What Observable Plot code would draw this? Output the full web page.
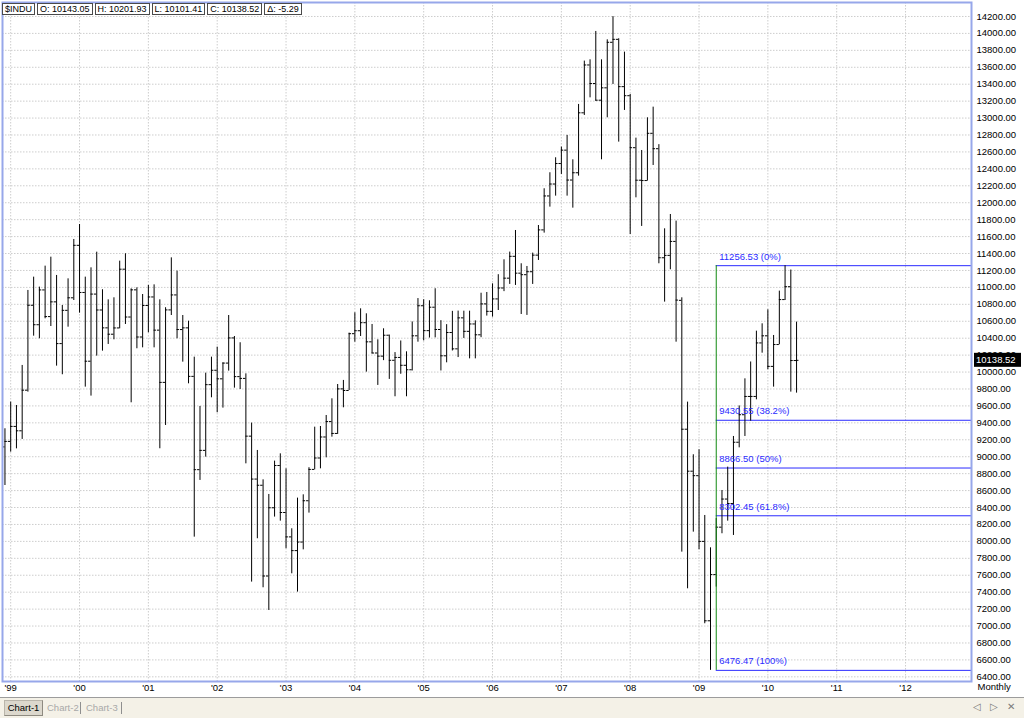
<!DOCTYPE html>
<html>
<head>
<meta charset="utf-8">
<script src="https://cdn.jsdelivr.net/npm/d3@7"></script>
<script src="https://cdn.jsdelivr.net/npm/@observablehq/plot@0.6"></script>
<style>
  html, body { margin: 0; padding: 0; background: #fff; }
  #wrap { position: relative; width: 1024px; height: 718px; overflow: hidden; font-family: "Liberation Sans", Arial, sans-serif; }
  #chart svg { display: block; }
  #hdr { position: absolute; left: 2px; top: 3px; display: flex; gap: 2px; }
  #hdr div { box-sizing: border-box; height: 12px; line-height: 10px; font-size: 9px; border: 1px solid #4a4a4a; background: #fff; color: #000; padding: 0 2px; white-space: nowrap; }
  #tabs { position: absolute; left: 0; top: 697px; width: 1024px; height: 21px; background: #f4f1e7; border-top: 1px solid #9c9c9c; box-sizing: border-box; font-size: 9.5px; }
  #tabs .tab { position: absolute; top: 2px; height: 16px; line-height: 16px; color: #a8a8a8; }
  #tabs .sel { left: 4px; width: 39px; text-align: center; color: #000; background: #dcd8cd; border: 1px solid #b9b5aa; border-right-color: #8e8a80; border-bottom-color: #8e8a80; box-sizing: border-box; line-height: 14px; }
  #tabs .sep { position: absolute; top: 4px; width: 1px; height: 12px; background: #8f8f8f; }
  #nav { position: absolute; right: 6px; top: 3px; font-size: 10px; color: #7a7a7a; letter-spacing: 3px; }
</style>
</head>
<body>
<div id="wrap">
  <div id="chart"></div>
  <div id="hdr"></div>
  <div id="tabs">
    <div class="tab sel">Chart-1</div>
    <div class="tab" style="left:47px">Chart-2</div>
    <div class="sep" style="left:80px"></div>
    <div class="tab" style="left:86px">Chart-3</div>
    <div class="sep" style="left:121px"></div>
    <div id="nav">◁ ▷ ✕</div>
  </div>
</div>
<script>
// ---- Data: DJIA ($INDU) monthly bars, Dec 1998 .. Jun 2010 ----
const firstMonthIndex = -1; // Dec 1998 (Jan 1999 = 0)

const opens = [
  9116,
  9181, 9358, 9306, 9786, 10789, 10559, 10970, 10655, 10829, 10336, 10729, 10877,
  11497, 10940, 10128, 10921, 10733, 10522, 10447, 10521, 11215, 10650, 10971, 10414,
  10786, 10887, 10495, 9878, 10734, 10911, 10502, 10522, 9949, 8847, 9075, 9851,
  10021, 9920, 10106, 10403, 9946, 9925, 9243, 8736, 8663, 7591, 8397, 8896,
  8341, 8053, 7891, 7992, 8480, 8850, 8985, 9233, 9415, 9275, 9801, 9782,
  10453, 10488, 10583, 10357, 10225, 10188, 10435, 10139, 10173, 10080, 10027, 10428,
  10783, 10489, 10766, 10503, 10192, 10467, 10274, 10640, 10481, 10568, 10440, 10805,
  10717, 10864, 10993, 11109, 11367, 11168, 11150, 11185, 11381, 11679, 12080, 12221,
  12463, 12621, 12268, 12354, 13062, 13627, 13408, 13211, 13357, 13895, 13930, 13371,
  13264, 12650, 12266, 12262, 12820, 12638, 11350, 11378, 11543, 10847, 9325, 8829,
  8776, 8000, 7062, 7608, 8168, 8500, 8447, 9171, 9496, 9712, 9712, 10344,
  10428, 10067, 10325, 10856, 11008, 10136
];
const highs = [
  9330,
  9645, 9605, 10078, 10964, 11121, 11003, 11251, 11357, 11141, 10786, 11101, 11566,
  11743, 11121, 11231, 11416, 10972, 10853, 10877, 11310, 11397, 10983, 10995, 10916,
  11023, 11030, 10853, 10760, 11349, 11192, 10668, 10601, 10176, 9594, 9987, 10176,
  10294, 10109, 10668, 10420, 10346, 9979, 9397, 9074, 8727, 8554, 8948, 9034,
  8857, 8149, 8511, 8550, 8870, 9349, 9357, 9487, 9684, 9853, 9901, 10460,
  10700, 10747, 10688, 10562, 10381, 10511, 10437, 10230, 10367, 10239, 10592, 10868,
  10854, 10842, 10984, 10607, 10560, 10717, 10720, 10719, 10719, 10605, 10931, 10940,
  11042, 11150, 11326, 11417, 11672, 11279, 11247, 11405, 11731, 12165, 12354, 12531,
  12657, 12795, 12507, 13161, 13673, 13688, 14023, 13688, 13924, 14198, 13937, 13779,
  13279, 12763, 12617, 13003, 13129, 12686, 11692, 11861, 11783, 10877, 9645, 9023,
  9082, 8306, 7924, 8270, 8601, 8877, 9239, 9600, 9920, 10119, 10483, 10570,
  10735, 10432, 10956, 11256.53, 11205, 10590
];
const lows = [
  8660,
  9054, 9093, 9204, 9763, 10424, 10393, 10629, 10538, 10070, 9968, 10530, 10845,
  10696, 9822, 9716, 10188, 10247, 10326, 10381, 10511, 10562, 9637, 10275, 10286,
  10464, 10286, 9094, 9369, 10668, 10393, 10117, 9861, 8050, 8720, 8995, 9696,
  9519, 9574, 10011, 9810, 9794, 8916, 7519, 8031, 7452, 7184, 8287, 8239,
  7913, 7617, 7401, 7900, 8334, 8845, 8857, 8987, 9231, 9263, 9578, 9782,
  10353, 10420, 9999, 10215, 9842, 10135, 9913, 9708, 9974, 9708, 10013, 10353,
  10368, 10402, 10404, 10013, 10109, 10249, 10171, 10397, 10156, 10156, 10406, 10661,
  10649, 10727, 10950, 11035, 11023, 10680, 10669, 11035, 11318, 11641, 11948, 12078,
  12334, 12078, 11936, 12314, 13031, 13239, 13200, 12507, 13003, 13397, 12716, 13090,
  11625, 12058, 11720, 12255, 12440, 11279, 10826, 11208, 10353, 7873, 7440, 8109,
  7901, 7027, 6476.47, 7460, 8090, 8239, 8070, 9105, 9239, 9420, 9672, 10223,
  10027, 9822, 10322, 10845, 9763, 9751
];
const closes = [
  9181,
  9358, 9306, 9786, 10789, 10559, 10970, 10655, 10829, 10336, 10729, 10877, 11497,
  10940, 10128, 10921, 10733, 10522, 10447, 10521, 11215, 10650, 10971, 10414, 10786,
  10887, 10495, 9878, 10734, 10911, 10502, 10522, 9949, 8847, 9075, 9851, 10021,
  9920, 10106, 10403, 9946, 9925, 9243, 8736, 8663, 7591, 8397, 8896, 8341,
  8053, 7891, 7992, 8480, 8850, 8985, 9233, 9415, 9275, 9801, 9782, 10453,
  10488, 10583, 10357, 10225, 10188, 10435, 10139, 10173, 10080, 10027, 10428, 10783,
  10489, 10766, 10503, 10192, 10467, 10274, 10640, 10481, 10568, 10440, 10805, 10717,
  10864, 10993, 11109, 11367, 11168, 11150, 11185, 11381, 11679, 12080, 12221, 12463,
  12621, 12268, 12354, 13062, 13627, 13408, 13211, 13357, 13895, 13930, 13371, 13264,
  12650, 12266, 12262, 12820, 12638, 11350, 11378, 11543, 10850, 9325, 8829, 8776,
  8000, 7062, 7608, 8168, 8500, 8447, 9171, 9496, 9712, 9712, 10344, 10428,
  10067, 10325, 10856, 11008, 10136, 10138.52
];

// Axis ticks
const yTicks = [6400, 6600, 6800, 7000, 7200, 7400, 7600, 7800, 8000, 8200, 8400, 8600, 8800,
  9000, 9200, 9400, 9600, 9800, 10000, 10200, 10400, 10600, 10800, 11000, 11200, 11400,
  11600, 11800, 12000, 12200, 12400, 12600, 12800, 13000, 13200, 13400, 13600, 13800, 14000, 14200];
const yearLabels = ["'99", "'00", "'01", "'02", "'03", "'04", "'05", "'06", "'07", "'08", "'09", "'10", "'11", "'12"];
const yearTicks = yearLabels.map((_, i) => i * 12); // January of each year

// Fibonacci retracement (drawn from the Apr 2009 bar)
const fibStartMonth = 123;
const fibLevels = [11256.53, 9430.55, 8866.50, 8302.45, 6476.47];
const fibLabels = ["11256.53 (0%)", "9430.55 (38.2%)", "8866.50 (50%)", "8302.45 (61.8%)", "6476.47 (100%)"];

// Header quote
const quoteSymbol = "$INDU";
const quoteFields = ["O: 10143.05", "H: 10201.93", "L: 10101.41", "C: 10138.52", "Δ: -5.29"];
const lastPrice = 10138.52;
const periodLabel = "Monthly";

// ---- Build table ----
const bars = opens.map((o, i) => ({
  m: firstMonthIndex + i, open: o, high: highs[i], low: lows[i], close: closes[i]
}));

const xDomain = [-1.43, 167.5];
const tickLen = 0.42;
const gridStyle = { stroke: "#cdcdcd", strokeOpacity: 1, strokeDasharray: "1.5,1.5" };

const chart = Plot.plot({
  width: 1024,
  height: 697,
  marginLeft: 2,
  marginRight: 53,
  marginTop: 2,
  marginBottom: 16,
  x: { domain: xDomain, axis: null },
  y: { domain: [6345, 14365], axis: null },
  style: { fontFamily: "'Liberation Sans', Arial, sans-serif", fontSize: "9.5px", background: "#fff", color: "#000", overflow: "visible" },
  marks: [
    Plot.gridY(yTicks, gridStyle),
    Plot.gridX(yearTicks, gridStyle),
    Plot.ruleY(fibLevels, { y: d => d, x1: fibStartMonth, x2: xDomain[1], stroke: "#2b2bff", strokeWidth: 1 }),
    Plot.ruleX(bars, { x: "m", y1: "low", y2: "high", stroke: "#000", strokeWidth: 1 }),
    Plot.ruleY(bars, { y: "open", x1: d => d.m - tickLen, x2: "m", stroke: "#000", strokeWidth: 1 }),
    Plot.ruleY(bars, { y: "close", x1: "m", x2: d => d.m + tickLen, stroke: "#000", strokeWidth: 1 }),
    Plot.ruleX([fibStartMonth], { y1: fibLevels[4], y2: fibLevels[0], stroke: "#118a11", strokeWidth: 1 }),
    Plot.text(fibLevels, { x: fibStartMonth, y: d => d, text: (d, i) => fibLabels[i], textAnchor: "start", dx: 3, dy: -9, fill: "#2b2bff", fontSize: 9.5 }),
    Plot.frame({ stroke: "#97a7ea", strokeWidth: 2 }),
    Plot.axisY(yTicks, { anchor: "right", tickSize: 0, tickPadding: 5, tickFormat: d => d.toFixed(2), label: null, fontSize: 9.5 }),
    Plot.axisX(yearTicks, { anchor: "bottom", tickSize: 0, tickPadding: 3, tickFormat: d => yearLabels[yearTicks.indexOf(d)], label: null, fontSize: 9.5 }),
    Plot.text([periodLabel], { frameAnchor: "bottom-right", textAnchor: "start", dx: 6, dy: 8, fontSize: 9.5 })
  ]
});
document.getElementById("chart").appendChild(chart);

// Current price marker on the right axis
const ys = chart.scale("y");
const xs = chart.scale("x");
const yPix = ys.apply(lastPrice);
const xRight = xs.range[1];
const g = d3.select(chart).append("g");
g.append("rect").attr("x", xRight + 3).attr("y", yPix - 7).attr("width", 47).attr("height", 14).attr("fill", "#000");
g.append("text").attr("x", xRight + 5).attr("y", yPix).attr("dy", "0.35em").attr("fill", "#fff")
  .attr("text-anchor", "start").attr("font-size", 9.5).text(lastPrice.toFixed(2));

// Header quote boxes
const hdr = document.getElementById("hdr");
[quoteSymbol, ...quoteFields].forEach(t => {
  const d = document.createElement("div");
  d.textContent = t;
  hdr.appendChild(d);
});
</script>
</body>
</html>
